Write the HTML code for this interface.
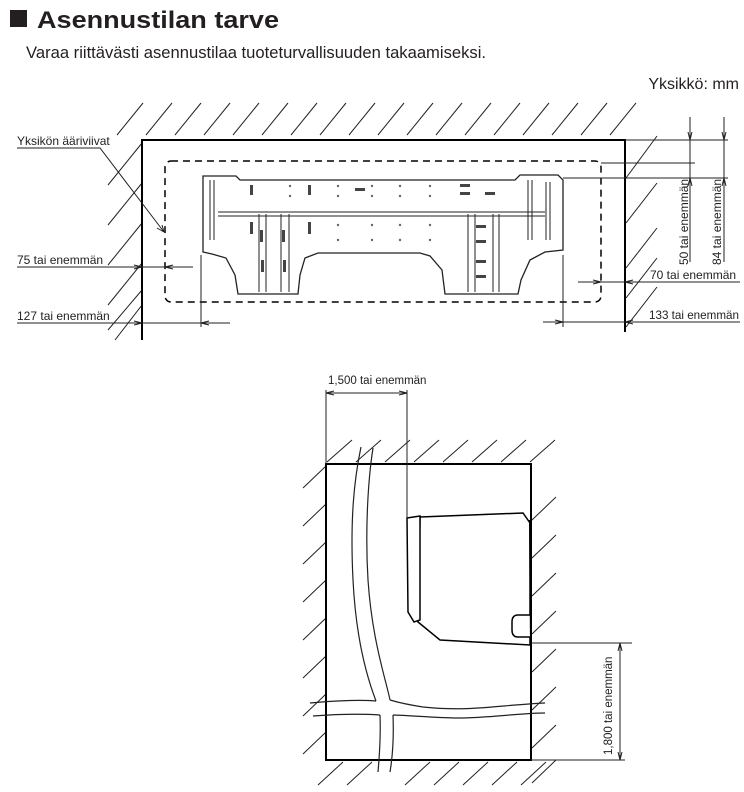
<!DOCTYPE html>
<html><head><meta charset="utf-8"><style>
html,body{margin:0;padding:0;background:#fff;}
svg{display:block;font-family:"Liberation Sans",Arial,sans-serif;}
</style></head><body>
<svg width="744" height="792" viewBox="0 0 744 792" xmlns="http://www.w3.org/2000/svg">
<rect x="10" y="10" width="17" height="17" fill="#231f20"/>
<text x="37" y="28" font-size="24" font-weight="bold" fill="#231f20" textLength="242" lengthAdjust="spacingAndGlyphs">Asennustilan tarve</text>
<text x="26" y="58" font-size="16.5" fill="#231f20" textLength="460" lengthAdjust="spacingAndGlyphs">Varaa riittävästi asennustilaa tuoteturvallisuuden takaamiseksi.</text>
<text x="739" y="89" font-size="16" fill="#231f20" text-anchor="end">Yksikkö: mm</text>

<g stroke="#222" stroke-width="1" fill="none">
<path d="M117 135L143 103M146 135L172 103M175 135L201 103M204 135L230 103M233 135L259 103M262 135L288 103M291 135L317 103M320 135L346 103M349 135L375 103M378 135L404 103M407 135L433 103M436 135L462 103M465 135L491 103M494 135L520 103M523 135L549 103M552 135L578 103M581 135L607 103M610 135L636 103"/>
<path d="M108 185L142 143M108 225L142 183M108 265L142 223M108 305L142 263M108 330L142 290M115 340L142 305"/>
<path d="M626 178L657 136M626 223L657 183M626 268L657 228M626 298L657 258M626 327L657 287"/>
</g>
<path d="M142 340V140H625V332" stroke="#000" stroke-width="2" fill="none"/>
<rect x="165" y="161" width="436" height="141" rx="6" stroke="#000" stroke-width="1.5" fill="none" stroke-dasharray="7,5"/>

<g stroke="#222" fill="none" stroke-width="1.3">
<path d="M203 176L236 176L240 180L515 180L520 175L558 175L563 180L563 250L545 252L530 260L521 280L518 294L445 294L442 270L430 256L420 253L318 253L305 258L300 275L298 294L238 294L235 275L226 258L212 254L203 252Z"/>
<path d="M218 212L545 212M218 216L545 216" stroke-width="1"/>
<path d="M259 214V292M266 214V292M281 214V292M289 214V292M468 214V292M475 214V292M493 214V292M499 214V292" stroke-width="1"/>
<path d="M210 180V240M214 180V240M528 180V240M532 180V240M546 182V240M550 182V240" stroke-width="1"/>
</g>
<g fill="#444">
<rect x="250" y="185" width="3" height="10"/><rect x="308" y="185" width="3" height="10"/><rect x="250" y="222" width="3" height="12"/><rect x="260" y="230" width="3" height="12"/><rect x="282" y="230" width="3" height="12"/><rect x="308" y="222" width="3" height="12"/>
<rect x="355" y="188" width="10" height="3"/><rect x="460" y="184" width="10" height="3"/><rect x="460" y="192" width="10" height="3"/><rect x="485" y="192" width="10" height="3"/>
<rect x="476" y="225" width="10" height="3"/><rect x="476" y="240" width="10" height="3"/><rect x="476" y="260" width="10" height="3"/><rect x="476" y="275" width="10" height="3"/>
<rect x="261" y="260" width="3" height="12"/><rect x="283" y="260" width="3" height="12"/>
</g>
<g fill="#666">
<circle cx="290" cy="186" r="1.2"/><circle cx="290" cy="196" r="1.2"/><circle cx="338" cy="186" r="1.2"/><circle cx="338" cy="196" r="1.2"/><circle cx="372" cy="186" r="1.2"/><circle cx="372" cy="196" r="1.2"/><circle cx="400" cy="186" r="1.2"/><circle cx="400" cy="196" r="1.2"/><circle cx="430" cy="186" r="1.2"/><circle cx="430" cy="196" r="1.2"/>
<circle cx="338" cy="225" r="1.2"/><circle cx="338" cy="240" r="1.2"/><circle cx="372" cy="225" r="1.2"/><circle cx="372" cy="240" r="1.2"/><circle cx="400" cy="225" r="1.2"/><circle cx="400" cy="240" r="1.2"/><circle cx="430" cy="225" r="1.2"/><circle cx="430" cy="240" r="1.2"/>
</g>

<g stroke="#222" stroke-width="1" fill="none">
<path d="M17 148H100L164 232M164 232l-7-4M164 232l-2-7"/>
<path d="M17 267H193M17 323H230M201 255V327"/>
<path d="M578 282H740M543 322H740M563 255V327"/>
<path d="M625 140H728M601 163H695M563 178H728M690 117V262M724 117V262"/>
<path d="M128 267L142 267M142 267l-8-2M142 267l-8 2M165 267l8-2M165 267l8 2M128 323H142M142 323l-8-2M142 323l-8 2M201 323l8-2M201 323l8 2M601 282l-8-2M601 282l-8 2M625 282l8-2M625 282l8 2M563 322l-8-2M563 322l-8 2M625 322l8-2M625 322l8 2M690 140l-2-8M690 140l2-8M724 140l-2-8M724 140l2-8M690 178l-2 8M690 178l2 8M724 178l-2 8M724 178l2 8"/>
</g>
<g font-size="12" fill="#222">
<text x="17" y="145">Yksikön ääriviivat</text>
<text x="17" y="264">75 tai enemmän</text>
<text x="17" y="320">127 tai enemmän</text>
<text x="650" y="279">70 tai enemmän</text>
<text x="649" y="319" textLength="90" lengthAdjust="spacingAndGlyphs">133 tai enemmän</text>
<text transform="translate(688,265) rotate(-90)">50 tai enemmän</text>
<text transform="translate(721,265) rotate(-90)">84 tai enemmän</text>
</g>

<g stroke="#222" stroke-width="1" fill="none">
<path d="M327 462L352 440M356 462L381 440M385 462L410 440M414 462L439 440M443 462L468 440M472 462L497 440M501 462L526 440M530 462L555 440"/>
<path d="M303 488L326 466M303 526L326 504M303 564L326 542M303 602L326 580M303 640L326 618M303 678L326 656M303 716L326 694M303 754L326 732"/>
<path d="M532 520L556 497M532 558L556 535M532 596L556 573M532 634L556 611M532 672L556 649M532 710L556 687M532 748L556 725M532 783L556 760"/>
<path d="M318 785L343 762M347 785L372 762M405 785L430 762M434 785L459 762M463 785L488 762M492 785L517 762M521 785L546 762"/>
</g>
<rect x="326" y="464" width="205" height="296" stroke="#000" stroke-width="2" fill="none"/>
<g stroke="#222" stroke-width="1.2">
<path d="M361 447C354 480 350 520 353 580C356 640 368 680 376 701" fill="none"/>
<path d="M373 448C368 480 365 530 368 580C372 640 386 680 390 700" fill="none"/>
<path d="M380 715C381 740 379 760 378 772M393 715C394 740 392 760 390 772" fill="none"/>
<path d="M390 700C400 703 410 705 423 707C470 712 500 705 545 703" fill="none"/>
<path d="M393 715C420 716 440 718 457 718C490 718 520 713 545 713" fill="none"/>
</g>
<rect x="331" y="704" width="44" height="10" fill="#fff"/>
<path d="M310 703C340 700 365 700 376 701M313 716C340 714 365 714 380 715" stroke="#222" stroke-width="1.2" fill="none"/>
<g stroke="#000" stroke-width="1.5" fill="#fff">
<path d="M420 517L523 513L530 523V645L440 640L418 622Z"/>
<path d="M407 518L420 516L420 620L414 622L408 612Z"/>
<path d="M530 615H518Q512 615 512 622V630Q512 637 518 637H530"/>
</g>
<path d="M531 645L530 520" stroke="#000" stroke-width="2"/>
<g stroke="#222" stroke-width="1" fill="none">
<path d="M326 390V464M407 390V518M326 393H407M326 393l8-2M326 393l8 2M407 393l-8-2M407 393l-8 2"/>
<path d="M531 643H632M531 760H625M620 643V760M620 643l-2 8M620 643l2 8M620 760l-2-8M620 760l2-8"/>
</g>
<g font-size="11.5" fill="#222">
<text x="328" y="384">1,500 tai enemmän</text>
<text transform="translate(612,755) rotate(-90)">1,800 tai enemmän</text>
</g>
</svg>
</body></html>
